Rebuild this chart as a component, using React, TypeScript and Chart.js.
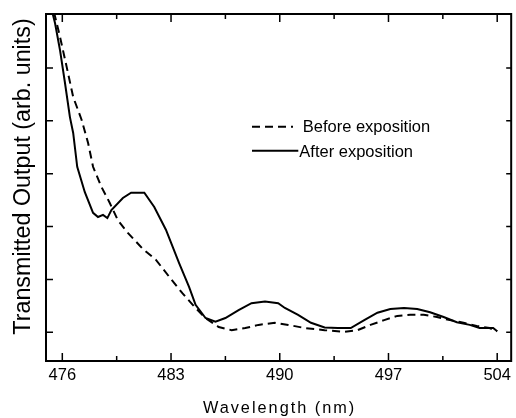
import React, { useEffect, useRef } from "react";
import { Chart, registerables } from "chart.js";

Chart.register(...registerables);

const FONT = '"Liberation Sans", Arial, sans-serif';

// Wavelength (nm) tick labels
const xTickLabels = [476, 483, 490, 497, 504];
const xMinorTicks = [479.5, 486.5, 493.5, 500.5];
const yTickValues = [1, 2, 3, 4, 5, 6];

// Before exposition (dashed)
const beforeX = [475.47, 475.85, 476.28, 476.7, 477.24, 477.66, 477.98, 478.52, 479.05, 479.58, 480.22, 481.17, 482.03, 482.88, 483.73, 484.58, 485.22, 486.07, 486.9, 487.78, 488.63, 489.69, 490.55, 491.61, 492.89, 494.16, 495.01, 495.84, 496.72, 497.57, 498.4, 499.27, 500.12, 500.95, 501.83, 502.68, 503.51, 504.0];
const beforeY = [7.05, 6.59, 6.02, 5.45, 5.02, 4.58, 4.13, 3.75, 3.45, 3.12, 2.88, 2.58, 2.37, 2.05, 1.74, 1.46, 1.27, 1.1, 1.04, 1.08, 1.14, 1.18, 1.14, 1.08, 1.04, 1.01, 1.04, 1.14, 1.23, 1.31, 1.33, 1.33, 1.29, 1.23, 1.18, 1.12, 1.08, 1.02];

// After exposition (solid)
const afterX = [475.36, 475.53, 475.85, 476.17, 476.49, 476.7, 476.96, 477.45, 477.98, 478.3, 478.62, 478.9, 479.16, 479.9, 480.43, 481.28, 481.92, 482.67, 483.52, 484.16, 484.58, 485.22, 485.86, 486.5, 487.35, 488.18, 489.05, 489.9, 490.33, 491.18, 492.01, 492.89, 493.74, 494.57, 495.44, 496.29, 497.12, 498.0, 498.85, 499.68, 500.55, 501.4, 502.23, 502.87, 503.74, 504.0];
const afterY = [7.05, 6.85, 6.34, 5.72, 5.07, 4.77, 4.13, 3.65, 3.26, 3.18, 3.22, 3.16, 3.31, 3.54, 3.64, 3.64, 3.37, 2.94, 2.31, 1.86, 1.52, 1.27, 1.2, 1.27, 1.42, 1.55, 1.58, 1.55, 1.46, 1.33, 1.18, 1.09, 1.08, 1.08, 1.23, 1.37, 1.44, 1.46, 1.44, 1.38, 1.29, 1.19, 1.14, 1.08, 1.08, 1.02];

const legendLabels = ["Before exposition", "After exposition"];
const xTitle = "Wavelength (nm)";
const yTitle = "Transmitted Output (arb. units)";

const framePlugin = {
  id: "frame",
  afterDraw(chart: any) {
    const { ctx, chartArea } = chart;
    const xs = chart.scales.x;
    const ys = chart.scales.y;
    const { left, right, top, bottom } = chartArea;
    ctx.save();
    ctx.strokeStyle = "#000";
    ctx.lineWidth = 2;
    ctx.strokeRect(left, top, right - left, bottom - top);
    ctx.lineWidth = 1.5;
    ctx.beginPath();
    const drawX = (v: number, len: number) => {
      const px = xs.getPixelForValue(v);
      ctx.moveTo(px, bottom);
      ctx.lineTo(px, bottom - len);
      ctx.moveTo(px, top);
      ctx.lineTo(px, top + len);
    };
    xTickLabels.forEach((v) => drawX(v, 8));
    xMinorTicks.forEach((v) => drawX(v, 5));
    yTickValues.forEach((v) => {
      const py = ys.getPixelForValue(v);
      ctx.moveTo(left, py);
      ctx.lineTo(left + 7, py);
      ctx.moveTo(right, py);
      ctx.lineTo(right - 5, py);
    });
    ctx.stroke();

    // axis titles
    ctx.fillStyle = "#000";
    ctx.font = `16.3px ${FONT}`;
    ctx.textAlign = "center";
    ctx.textBaseline = "alphabetic";
    (ctx as any).letterSpacing = "2px";
    ctx.fillText(xTitle, (left + right) / 2 + 1, 413);
    (ctx as any).letterSpacing = "0px";
    ctx.save();
    ctx.translate(30, 176.5);
    ctx.rotate(-Math.PI / 2);
    ctx.font = `23.3px ${FONT}`;
    ctx.fillText(yTitle, 0, 0);
    ctx.restore();

    // legend
    const ds = chart.data.datasets;
    ctx.lineWidth = 2;
    ctx.font = `16.5px ${FONT}`;
    ctx.textAlign = "left";
    ctx.setLineDash(ds[0].borderDash || []);
    ctx.beginPath();
    ctx.moveTo(252, 126.7);
    ctx.lineTo(293, 126.7);
    ctx.stroke();
    ctx.setLineDash([]);
    ctx.fillText(legendLabels[0], 302.7, 132.3);
    ctx.beginPath();
    ctx.moveTo(252, 150.7);
    ctx.lineTo(298.3, 150.7);
    ctx.stroke();
    ctx.fillText(legendLabels[1], 299.3, 157.3);
    ctx.restore();
  },
};

export default function App() {
  const ref = useRef<HTMLCanvasElement | null>(null);
  useEffect(() => {
    if (!ref.current) return;
    const chart = new Chart(ref.current, {
      type: "line",
      data: {
        datasets: [
          {
            label: legendLabels[0],
            data: beforeX.map((x, i) => ({ x, y: beforeY[i] })),
            borderColor: "#000",
            borderWidth: 2,
            borderDash: [8, 5],
            pointRadius: 0,
            tension: 0,
            fill: false,
          },
          {
            label: legendLabels[1],
            data: afterX.map((x, i) => ({ x, y: afterY[i] })),
            borderColor: "#000",
            borderWidth: 2,
            pointRadius: 0,
            tension: 0,
            fill: false,
          },
        ],
      },
      options: {
        animation: false,
        responsive: false,
        devicePixelRatio: 1,
        layout: { padding: { top: 14, right: 1, left: 0, bottom: 0 } },
        plugins: { legend: { display: false }, tooltip: { enabled: false } },
        scales: {
          x: {
            type: "linear",
            min: 474.95,
            max: 504.9,
            grid: { display: false, drawTicks: false },
            border: { display: false },
            afterBuildTicks: (scale: any) => {
              scale.ticks = xTickLabels.map((v) => ({ value: v }));
            },
            afterFit: (scale: any) => {
              scale.height = 57;
            },
            ticks: {
              autoSkip: false,
              maxRotation: 0,
              padding: 5,
              color: "#000",
              font: { family: FONT, size: 16.5 },
              callback: (v: any) => String(v),
            },
          },
          y: {
            type: "linear",
            min: 0.457,
            max: 7.02,
            grid: { display: false, drawTicks: false },
            border: { display: false },
            ticks: { display: false },
            afterFit: (scale: any) => {
              scale.width = 46;
            },
          },
        },
      },
      plugins: [framePlugin],
    } as any);
    return () => chart.destroy();
  }, []);
  return (
    <div style={{ position: "absolute", left: 0, top: 0, width: 516, height: 418, background: "#fff" }}>
      <canvas ref={ref} width={516} height={418} style={{ display: "block" }} />
    </div>
  );
}
